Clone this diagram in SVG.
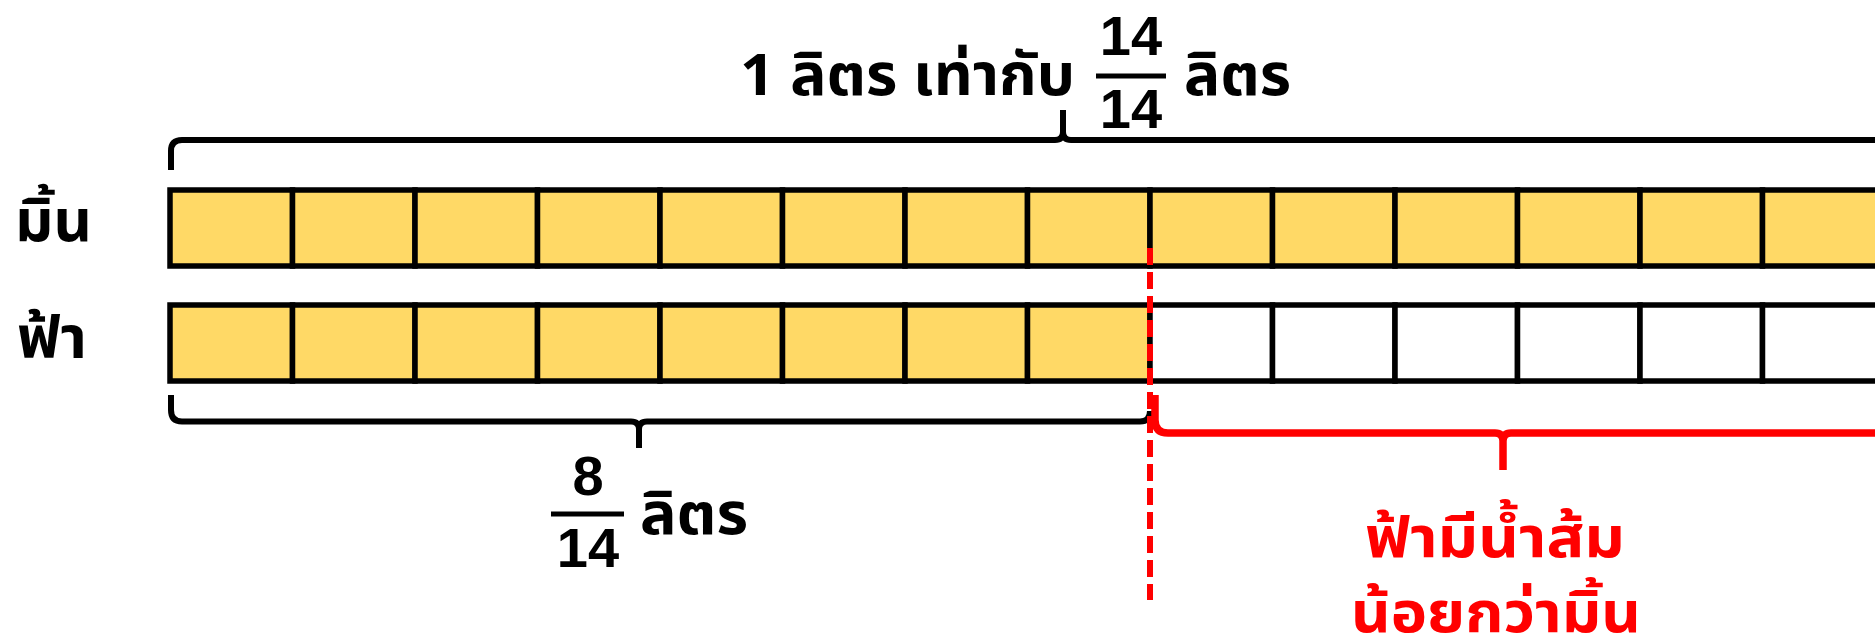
<svg xmlns="http://www.w3.org/2000/svg" width="1875" height="640" viewBox="0 0 1875 640">
<style>
.cell{stroke:#000;stroke-width:5.5}
.y{fill:#FFD966}
.w{fill:#FFFFFF}
.t{font-family:"Noto Sans Thai","Noto Sans","DejaVu Sans",sans-serif;font-weight:bold;font-size:58px;fill:#000}
.num{font-family:"Liberation Sans","Noto Sans",sans-serif;font-weight:bold;font-size:56px;fill:#000;text-anchor:middle}
.red{fill:#FF0000;text-anchor:middle;font-size:56px}
.br{fill:none;stroke:#000;stroke-width:6;stroke-linejoin:round}
.rbr{fill:none;stroke:#FF0000;stroke-width:7.5;stroke-linejoin:round}
.frac{stroke:#000;stroke-width:5}
</style>
<rect width="1875" height="640" fill="#fff"/>
<g id="label-min"><text class="t" x="15" y="241" textLength="77" lengthAdjust="spacingAndGlyphs">มิ้น</text></g>
<g id="label-fa"><text class="t" x="17" y="358" textLength="70" lengthAdjust="spacingAndGlyphs">ฟ้า</text></g>
<g id="bar-min">
<rect class="cell y" x="170" y="190" width="122.5" height="76"/>
<rect class="cell y" x="292.5" y="190" width="122.5" height="76"/>
<rect class="cell y" x="415" y="190" width="122.5" height="76"/>
<rect class="cell y" x="537.5" y="190" width="122.5" height="76"/>
<rect class="cell y" x="660" y="190" width="122.5" height="76"/>
<rect class="cell y" x="782.5" y="190" width="122.5" height="76"/>
<rect class="cell y" x="905" y="190" width="122.5" height="76"/>
<rect class="cell y" x="1027.5" y="190" width="122.5" height="76"/>
<rect class="cell y" x="1150" y="190" width="122.5" height="76"/>
<rect class="cell y" x="1272.5" y="190" width="122.5" height="76"/>
<rect class="cell y" x="1395" y="190" width="122.5" height="76"/>
<rect class="cell y" x="1517.5" y="190" width="122.5" height="76"/>
<rect class="cell y" x="1640" y="190" width="122.5" height="76"/>
<rect class="cell y" x="1762.5" y="190" width="122.5" height="76"/>
</g>
<g id="bar-fa">
<rect class="cell y" x="170" y="305" width="122.5" height="76"/>
<rect class="cell y" x="292.5" y="305" width="122.5" height="76"/>
<rect class="cell y" x="415" y="305" width="122.5" height="76"/>
<rect class="cell y" x="537.5" y="305" width="122.5" height="76"/>
<rect class="cell y" x="660" y="305" width="122.5" height="76"/>
<rect class="cell y" x="782.5" y="305" width="122.5" height="76"/>
<rect class="cell y" x="905" y="305" width="122.5" height="76"/>
<rect class="cell y" x="1027.5" y="305" width="122.5" height="76"/>
<rect class="cell w" x="1150" y="305" width="122.5" height="76"/>
<rect class="cell w" x="1272.5" y="305" width="122.5" height="76"/>
<rect class="cell w" x="1395" y="305" width="122.5" height="76"/>
<rect class="cell w" x="1517.5" y="305" width="122.5" height="76"/>
<rect class="cell w" x="1640" y="305" width="122.5" height="76"/>
<rect class="cell w" x="1762.5" y="305" width="122.5" height="76"/>
</g>
<g id="connectors">
<path class="br" d="M171,170 V151 Q171,140 182,140 H1055 Q1063,140 1063,132 V110 M1063,132 Q1063,140 1071,140 H1890"/>
<path class="br" d="M171,395 V410 Q171,421.5 182,421.5 H631 Q639,421.5 639,429 V448 M639,429 Q639,421.5 647,421.5 H1140 Q1150,421.5 1150,411"/>
<path class="rbr" d="M1155,395 V420 Q1155,433 1168,433 H1495 Q1503,433 1503,441 V470 M1503,441 Q1503,433 1511,433 H1890"/>
<line x1="1150" y1="248" x2="1150" y2="600" stroke="#FF0000" stroke-width="6" stroke-dasharray="17 7"/>
</g>
<g id="title">
<text class="t" x="740" y="95" textLength="335" lengthAdjust="spacingAndGlyphs">1 ลิตร เท่ากับ</text>
<text class="num" x="1131" y="55">14</text>
<line class="frac" x1="1096" y1="76" x2="1166" y2="76"/>
<text class="num" x="1131" y="128">14</text>
<text class="t" x="1184" y="95" textLength="107" lengthAdjust="spacingAndGlyphs">ลิตร</text>
</g>
<g id="label-fa-amount">
<text class="num" x="588" y="495">8</text>
<line class="frac" x1="551" y1="514" x2="624" y2="514"/>
<text class="num" x="588" y="567">14</text>
<text class="t" x="640" y="534" textLength="108" lengthAdjust="spacingAndGlyphs">ลิตร</text>
</g>
<g id="label-diff">
<text class="t red" x="1495" y="557" textLength="260" lengthAdjust="spacingAndGlyphs">ฟ้ามีน้ำส้ม</text>
<text class="t red" x="1496" y="632" textLength="290" lengthAdjust="spacingAndGlyphs">น้อยกว่ามิ้น</text>
</g>
</svg>
